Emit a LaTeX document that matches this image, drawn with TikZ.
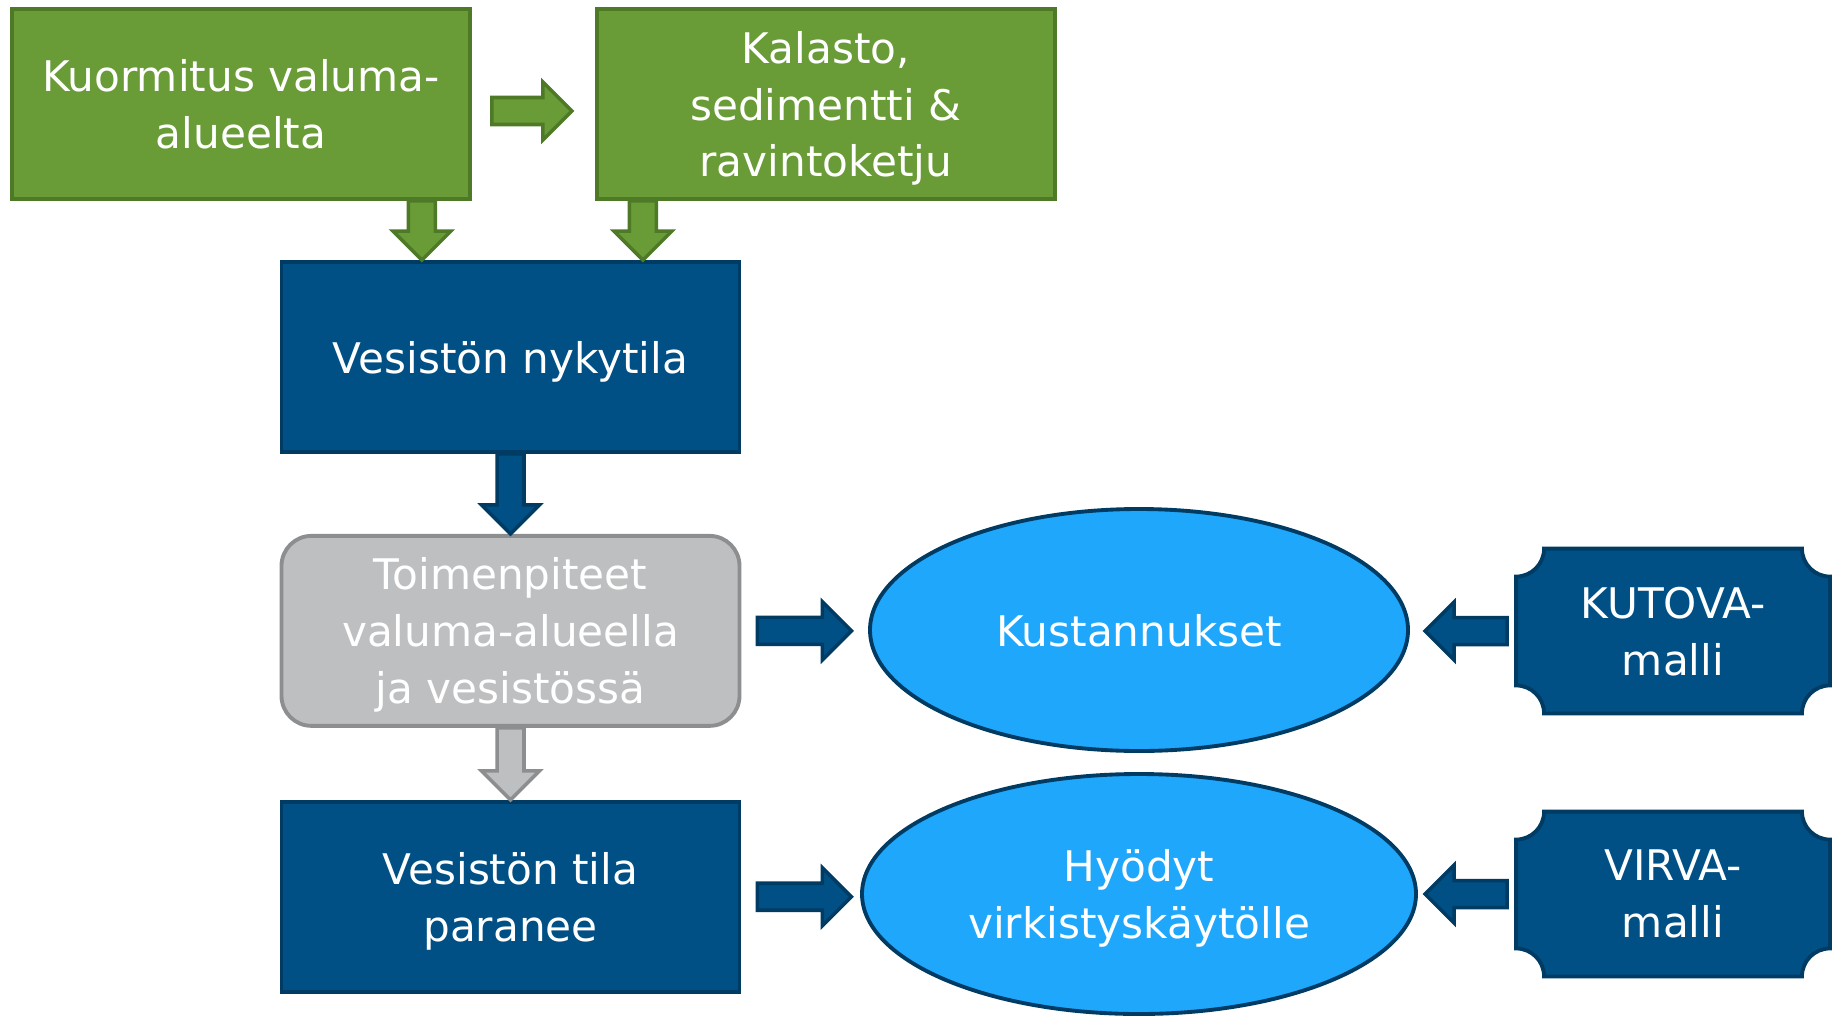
\documentclass[tikz,border=0pt]{standalone}
\usepackage{fontspec}
\setmainfont{DejaVu Sans}
\usetikzlibrary{positioning, calc, shapes.geometric, backgrounds}

\definecolor{leafgreen}{HTML}{699B37}
\definecolor{leafdark}{HTML}{4E7A27}
\definecolor{deepblue}{HTML}{005085}
\definecolor{deepline}{HTML}{003B63}
\definecolor{skyblue}{HTML}{1FA7FC}
\definecolor{stonegray}{HTML}{BEBFC1}
\definecolor{stoneline}{HTML}{8D8E90}

% block arrow sizes
\def\bw{0.135cm}
\def\hw{0.29cm}
\def\hl{0.29cm}
\def\pr{0.28cm}

\tikzset{
  box/.style={rectangle, minimum width=4.58cm, minimum height=1.90cm,
    line width=1.1pt, text=white, align=center,
    font=\fontsize{12}{16.2}\selectfont, text depth=-0.8pt},
  greenbox/.style={box, fill=leafgreen, draw=leafdark},
  bluebox/.style={box, fill=deepblue, draw=deepline},
  graybox/.style={box, fill=stonegray, draw=stoneline, rounded corners=0.3cm},
  oval/.style={box, ellipse, inner sep=0pt, fill=skyblue, draw=deepline},
  plaque/.style={box, minimum width=3.10cm, minimum height=1.61cm},
  plaqueline/.style={line width=1.1pt, fill=deepblue, draw=deepline},
  barrow/.style={line width=1pt, line join=miter, to path={
    ($(\tikztostart)!\bw!90:(\tikztotarget)$)
    -- ($(\tikztotarget)!\hl!(\tikztostart)!\bw!90:(\tikztotarget)$)
    -- ($(\tikztotarget)!\hl!(\tikztostart)!\hw!90:(\tikztotarget)$)
    -- (\tikztotarget)
    -- ($(\tikztotarget)!\hl!(\tikztostart)!\hw!-90:(\tikztotarget)$)
    -- ($(\tikztotarget)!\hl!(\tikztostart)!\bw!-90:(\tikztotarget)$)
    -- ($(\tikztostart)!\bw!-90:(\tikztotarget)$) -- cycle}},
  greenarrow/.style={barrow, fill=leafgreen, draw=leafdark},
  bluearrow/.style={barrow, fill=deepblue, draw=deepline},
  grayarrow/.style={barrow, fill=stonegray, draw=stoneline}
}

% frame with hollow corners round a plaque node
\newcommand{\plaqueframe}[1]{%
  \draw[plaqueline] ([xshift=\pr]#1.north west) -- ([xshift=-\pr]#1.north east)
    arc[start angle=180, end angle=270, radius=\pr]
    -- ([yshift=\pr]#1.south east)
    arc[start angle=90, end angle=180, radius=\pr]
    -- ([xshift=\pr]#1.south west)
    arc[start angle=0, end angle=90, radius=\pr]
    -- ([yshift=-\pr]#1.north west)
    arc[start angle=-90, end angle=0, radius=\pr] -- cycle;}

\begin{document}
\begin{tikzpicture}
\useasboundingbox (0,0) rectangle (18.39,10.15);

\node[greenbox] (kuorm) at (2.41,9.11) {Kuormitus valuma-\\alueelta};
\node[greenbox, right=1.23cm of kuorm] (kalasto) {Kalasto,\\sedimentti \&\\ravintoketju};
\node[bluebox] (nyky) at (5.105,6.58) {Vesistön nykytila};
\node[graybox, below=0.80cm of nyky] (toimen)
    {Toimenpiteet\\valuma-alueella\\ja vesistössä};
\node[bluebox, below=0.72cm of toimen] (parane) {Vesistön tila\\paranee};
\node[oval, minimum width=5.38cm, minimum height=2.42cm] (kust) at (11.39,3.85)
    {Kustannukset};
\node[oval, minimum width=5.54cm, minimum height=2.40cm] (hyod) at (11.39,1.21)
    {Hyödyt\\virkistyskäytölle};
\node[plaque] (kutova) at (16.73,3.84) {KUTOVA-\\malli};
\node[plaque] (virva) at (16.73,1.21) {VIRVA-\\malli};
\begin{scope}[on background layer]
  \plaqueframe{kutova}
  \plaqueframe{virva}
\end{scope}

\coordinate (a1) at ([xshift=0.20cm,yshift=-0.07cm]kuorm.east);
\coordinate (a2) at ([xshift=-0.23cm,yshift=-0.07cm]kalasto.west);
\coordinate (b1) at ([xshift=-0.50cm]kuorm.south east);
\coordinate (b2) at (b1 |- nyky.north);
\coordinate (c1) at ([xshift=0.48cm]kalasto.south west);
\coordinate (c2) at (c1 |- nyky.north);
\coordinate (d1) at ([xshift=0.16cm]toimen.east);
\coordinate (d2) at ([xshift=0.94cm]d1);
\coordinate (f1) at ([xshift=0.16cm]parane.east);
\coordinate (f2) at ([xshift=0.94cm]f1);
\coordinate (e1) at ([xshift=-0.09cm]kutova.west);
\coordinate (e2) at ([xshift=-0.82cm]e1);
\coordinate (g1) at ([xshift=-0.09cm]virva.west);
\coordinate (g2) at ([xshift=-0.82cm]g1);

\draw[greenarrow] (a1) to (a2);
\draw[greenarrow] (b1) to (b2);
\draw[greenarrow] (c1) to (c2);
\draw[bluearrow] (nyky.south) to (toimen.north);
\draw[grayarrow] (toimen.south) to (parane.north);
\draw[bluearrow] (d1) to (d2);
\draw[bluearrow] (f1) to (f2);
\draw[bluearrow] (e1) to (e2);
\draw[bluearrow] (g1) to (g2);
\end{tikzpicture}
\end{document}
